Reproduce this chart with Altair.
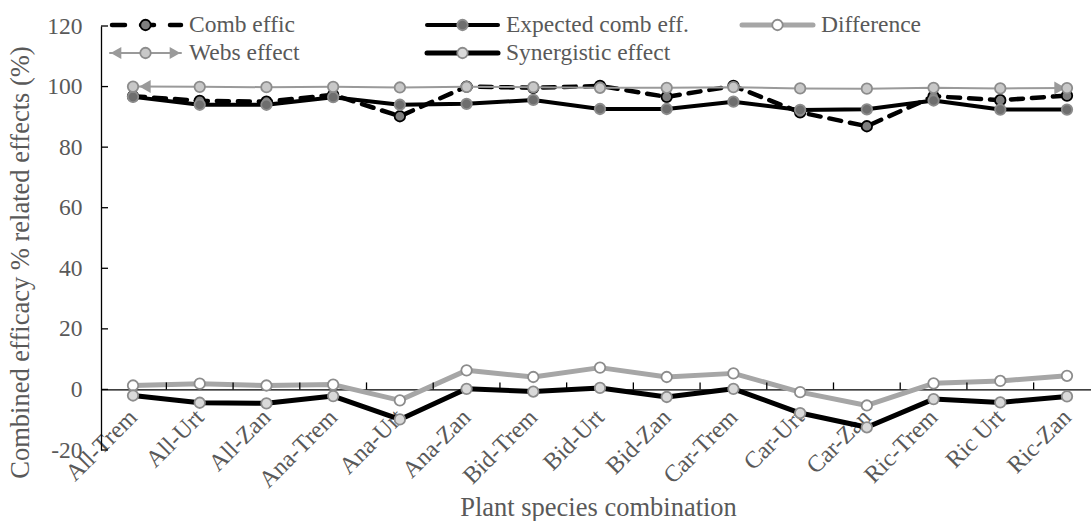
import json
import altair as alt
import pandas as pd

# ---------------- data ----------------
categories = ["All-Trem", "All-Urt", "All-Zan", "Ana-Trem", "Ana-Urt", "Ana-Zan",
              "Bid-Trem", "Bid-Urt", "Bid-Zan", "Car-Trem", "Car-Urt", "Car-Zan",
              "Ric-Trem", "Ric Urt", "Ric-Zan"]
comb_effic = [96.8, 95.3, 95.0, 97.3, 90.2, 100.0, 99.6, 100.2, 96.6, 100.2, 91.5, 86.9, 96.8, 95.5, 97.0]
expected_comb = [96.6, 94.0, 94.0, 96.5, 94.0, 94.3, 95.6, 92.6, 92.6, 95.0, 92.3, 92.5, 95.4, 92.4, 92.4]
difference = [1.3, 1.9, 1.3, 1.6, -3.6, 6.3, 4.1, 7.2, 4.1, 5.3, -0.9, -5.3, 2.0, 2.8, 4.5]
webs_effect = [100.0, 99.9, 99.8, 99.9, 99.7, 99.9, 99.8, 99.6, 99.6, 99.8, 99.4, 99.3, 99.6, 99.4, 99.5]
synergistic = [-2.0, -4.4, -4.6, -2.2, -9.9, 0.2, -0.7, 0.5, -2.5, 0.2, -7.8, -12.5, -3.2, -4.3, -2.3]

series_names = ["Comb effic", "Expected comb eff.", "Difference", "Webs effect", "Synergistic effect"]
series_values = [comb_effic, expected_comb, difference, webs_effect, synergistic]
y_ticks = [-20, 0, 20, 40, 60, 80, 100, 120]

# ---------------- layout ----------------
W, H = 990, 424
LEFT, TOP = 101, 26
XMIN, XMAX = -0.48, 14.36
YMIN, YMAX = -20, 120
STEP = W / (XMAX - XMIN)
YPX = H / (YMAX - YMIN)
FONT = "Liberation Serif"
TXT = "#595959"
GRAY_LINE = "#a6a6a6"
MARK_STROKE = "#8c8c8c"


def dx(px):
    return XMIN + px / STEP


def dy(py):
    return YMAX - py / YPX


rows = []
for name, vals in zip(series_names, series_values):
    for i, (c, v) in enumerate(zip(categories, vals)):
        rows.append({"series": name, "idx": i, "cat": c, "value": v})
df = pd.DataFrame(rows)

xscale = alt.Scale(domain=[XMIN, XMAX], nice=False, zero=False)
yscale = alt.Scale(domain=[YMIN, YMAX], nice=False, zero=False)

zero_px = (YMAX - 0) * YPX
x_axis = alt.Axis(
    values=list(range(len(categories))),
    labelExpr=json.dumps(categories) + "[datum.value]",
    ticks=False, tickSize=0, grid=False,
    domain=True, domainColor="black", domainWidth=1.3,
    offset=-(H - zero_px),
    labelAngle=315, labelAlign="right", labelBaseline="middle", labelPadding=24,
    labelFont=FONT, labelFontSize=24, labelColor=TXT,
    labelOverlap=False, labelBound=False, labelFlush=False,
    title="Plant species combination", titleFont=FONT, titleFontSize=26.5,
    titleFontWeight="normal", titleColor=TXT,
    titleX=W / 2 + 2, titleY=118, titleAlign="center", titleBaseline="middle",
)
y_axis = alt.Axis(
    values=y_ticks, labelExpr="datum.value + ''",
    ticks=False, tickSize=0, grid=False,
    domain=True, domainColor="black", domainWidth=1.3,
    labelPadding=19, labelFont=FONT, labelFontSize=23.5, labelColor=TXT,
    labelOverlap=False, labelBound=False, labelFlush=False,
    title="Combined efficacy % related effects (%)", titleFont=FONT,
    titleFontSize=26.5, titleFontWeight="normal", titleColor=TXT,
    titleAngle=270, titleX=-81, titleY=236, titleAlign="center", titleBaseline="middle",
)


def X(field):
    return alt.X(field, type="quantitative", scale=xscale, axis=x_axis)


def Y(field):
    return alt.Y(field, type="quantitative", scale=yscale, axis=y_axis)


styles = {
    "Comb effic": dict(color="black", width=4.5, dash=[12, 9], fill="#7f7f7f", stroke="black"),
    "Expected comb eff.": dict(color="black", width=4, dash=None, fill="#6e6e6e", stroke=MARK_STROKE),
    "Difference": dict(color=GRAY_LINE, width=5, dash=None, fill="white", stroke=MARK_STROKE),
    "Webs effect": dict(color="#9a9a9a", width=2, dash=None, fill="#c8c8c8", stroke=MARK_STROKE),
    "Synergistic effect": dict(color="black", width=5, dash=None, fill="#d9d9d9", stroke=MARK_STROKE),
}

layers = []

for name in series_names:
    st = styles[name]
    base = alt.Chart(df).transform_filter(alt.datum.series == name)
    lkw = dict(color=st["color"], strokeWidth=st["width"], strokeCap="round", strokeJoin="round")
    if st["dash"] is not None:
        lkw["strokeDash"] = st["dash"]
    layers.append(base.mark_line(**lkw).encode(x=X("idx"), y=Y("value"), order="idx:Q"))
    if name == "Webs effect":
        first = alt.Chart(df).transform_filter(
            (alt.datum.series == name) & (alt.datum.idx == 0))
        last = alt.Chart(df).transform_filter(
            (alt.datum.series == name) & (alt.datum.idx == len(categories) - 1))
        layers.append(first.mark_point(shape="triangle-left", filled=True, size=170,
                                       color=st["color"], opacity=1, xOffset=12).encode(
            x=X("idx"), y=Y("value")))
        layers.append(last.mark_point(shape="triangle-right", filled=True, size=170,
                                      color=st["color"], opacity=1, xOffset=-7).encode(
            x=X("idx"), y=Y("value")))
    layers.append(base.mark_point(shape="circle", filled=True, size=110, fill=st["fill"],
                                  stroke=st["stroke"], strokeWidth=1.8, opacity=1).encode(
        x=X("idx"), y=Y("value")))

# inward tick marks
xt = pd.DataFrame({"x": [i + 0.5 for i in range(len(categories) - 1)]})
xt["y0"] = 0.0
xt["y1"] = 7 / YPX
layers.append(alt.Chart(xt).mark_rule(color="black", strokeWidth=1.3).encode(
    x=X("x"), y=Y("y0"), y2="y1:Q"))
yt = pd.DataFrame({"v": y_ticks})
yt["x0"] = XMIN
yt["x1"] = XMIN + 7 / STEP
layers.append(alt.Chart(yt).mark_rule(color="black", strokeWidth=1.3).encode(
    y=Y("v"), x=X("x0"), x2="x1:Q"))

# legend (manual, 3 columns x 2 rows)
LEG_COL_PX = [9, 326, 641]
LEG_ROW_PX = [-1, 27]
LEG_LEN = 71
LEG_GAP = 8
legend_pos = [(0, 0), (1, 0), (2, 0), (0, 1), (1, 1)]
for name, (c, r) in zip(series_names, legend_pos):
    st = styles[name]
    x0 = LEG_COL_PX[c]
    ld = pd.DataFrame([{
        "x0": dx(x0), "x1": dx(x0 + LEG_LEN), "xm": dx(x0 + LEG_LEN / 2),
        "xt": dx(x0 + LEG_LEN + LEG_GAP), "y": dy(LEG_ROW_PX[r]), "label": name,
    }])
    rkw = dict(color=st["color"], strokeWidth=st["width"], strokeCap="round")
    if st["dash"] is not None:
        rkw["strokeDash"] = [13, 16]
        rkw["strokeDashOffset"] = -2
    layers.append(alt.Chart(ld).mark_rule(**rkw).encode(x=X("x0"), x2="x1:Q", y=Y("y")))
    if name == "Webs effect":
        layers.append(alt.Chart(ld).mark_point(shape="triangle-left", filled=True, size=150,
                                               color=st["color"], opacity=1, xOffset=6).encode(
            x=X("x0"), y=Y("y")))
        layers.append(alt.Chart(ld).mark_point(shape="triangle-right", filled=True, size=150,
                                               color=st["color"], opacity=1, xOffset=-6).encode(
            x=X("x1"), y=Y("y")))
    layers.append(alt.Chart(ld).mark_point(shape="circle", filled=True, size=110, fill=st["fill"],
                                           stroke=st["stroke"], strokeWidth=1.8, opacity=1).encode(
        x=X("xm"), y=Y("y")))
    layers.append(alt.Chart(ld).mark_text(align="left", baseline="middle", font=FONT,
                                          fontSize=23.5, color=TXT).encode(
        x=X("xt"), y=Y("y"), text="label:N"))

chart = alt.layer(*layers).properties(
    width=W, height=H,
    padding={"left": LEFT, "top": TOP, "right": 0, "bottom": 521 - TOP - H},
    autosize=alt.AutoSizeParams(type="none"),
    background="white",
).configure_view(stroke=None)

chart.save("out.html", embed_options={"renderer": "svg", "actions": False})
